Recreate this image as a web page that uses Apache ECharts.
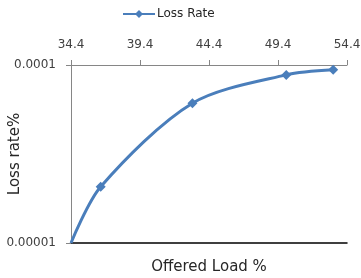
<!DOCTYPE html>
<html>
<head>
<meta charset="utf-8">
<script src="https://cdn.jsdelivr.net/npm/echarts@6/dist/echarts.min.js"></script>
<style>html,body{margin:0;padding:0;background:#fff}#c{width:361px;height:278px}</style>
</head>
<body>
<div id="c"></div>
<script>
var seriesName = 'Loss Rate';
var offeredLoad = [34.4, 36.55, 43.2, 50.0, 53.4];
var lossRate = [0.00001, 0.0000207, 0.000061, 0.000088, 0.000094];
var xTicks = [34.4, 39.4, 44.4, 49.4, 54.4];
var yTickLabels = ['0.00001', '0.0001'];
var xTitle = 'Offered Load %';
var yTitle = 'Loss rate%';

var chart = echarts.init(document.getElementById('c'));
var font = 'DejaVu Sans';
chart.setOption({
  animation: false,
  grid: {left: 71, right: 14, top: 65, bottom: 35, containLabel: false, outerBoundsMode: 'none'},
  legend: {
    top: 8, left: 122, padding: 0,
    itemWidth: 32, itemHeight: 10, itemGap: 2,
    textStyle: {fontFamily: font, fontSize: 12, color: '#262626', padding: [0, 0, 0, -3]},
    data: [seriesName]
  },
  xAxis: [{
    type: 'value', position: 'top', min: xTicks[0], max: xTicks[xTicks.length-1],
    axisLine: {show: true, lineStyle: {color: '#868686', width: 1}},
    axisTick: {show: true, inside: false, length: 5, customValues: xTicks, lineStyle: {color: '#868686'}},
    axisLabel: {customValues: xTicks, margin: 14, fontFamily: font, fontSize: 12, color: '#404040',
      formatter: function(v){ return v.toFixed(1); }},
    splitLine: {show: false}
  }, {
    type: 'value', position: 'bottom', min: xTicks[0], max: xTicks[xTicks.length-1],
    axisLine: {show: true, onZero: false, lineStyle: {color: '#000', width: 1.5}},
    axisTick: {show: false}, axisLabel: {show: false}, splitLine: {show: false},
    name: xTitle, nameLocation: 'middle', nameGap: 17, nameMoveOverlap: false,
    nameTextStyle: {fontFamily: font, fontSize: 15, color: '#262626'}
  }],
  yAxis: {
    type: 'log', logBase: 10, min: 0.00001, max: 0.0001,
    axisLine: {show: true, lineStyle: {color: '#868686', width: 1}},
    axisTick: {show: true, inside: false, length: 5, lineStyle: {color: '#868686'}},
    axisLabel: {margin: 15, fontFamily: font, fontSize: 12, color: '#404040',
      formatter: function(v){ var i = Math.round(Math.log10(v)) + 5; return yTickLabels[i] || ''; }},
    splitLine: {show: false},
    name: yTitle, nameLocation: 'middle', nameGap: 48, nameMoveOverlap: false,
    nameTextStyle: {fontFamily: font, fontSize: 15, color: '#262626'}
  },
  series: [{
    name: seriesName, type: 'line', xAxisIndex: 0,
    data: offeredLoad.map(function(x, i){
      var d = {value: [x, lossRate[i]]};
      if (i === 0) d.symbol = 'none';
      return d;
    }),
    smooth: 0.3,
    symbol: 'diamond',
    symbolSize: 10,
    lineStyle: {color: '#4A7EBB', width: 3},
    itemStyle: {color: '#4A7EBB'}
  }]
});
</script>
</body>
</html>
